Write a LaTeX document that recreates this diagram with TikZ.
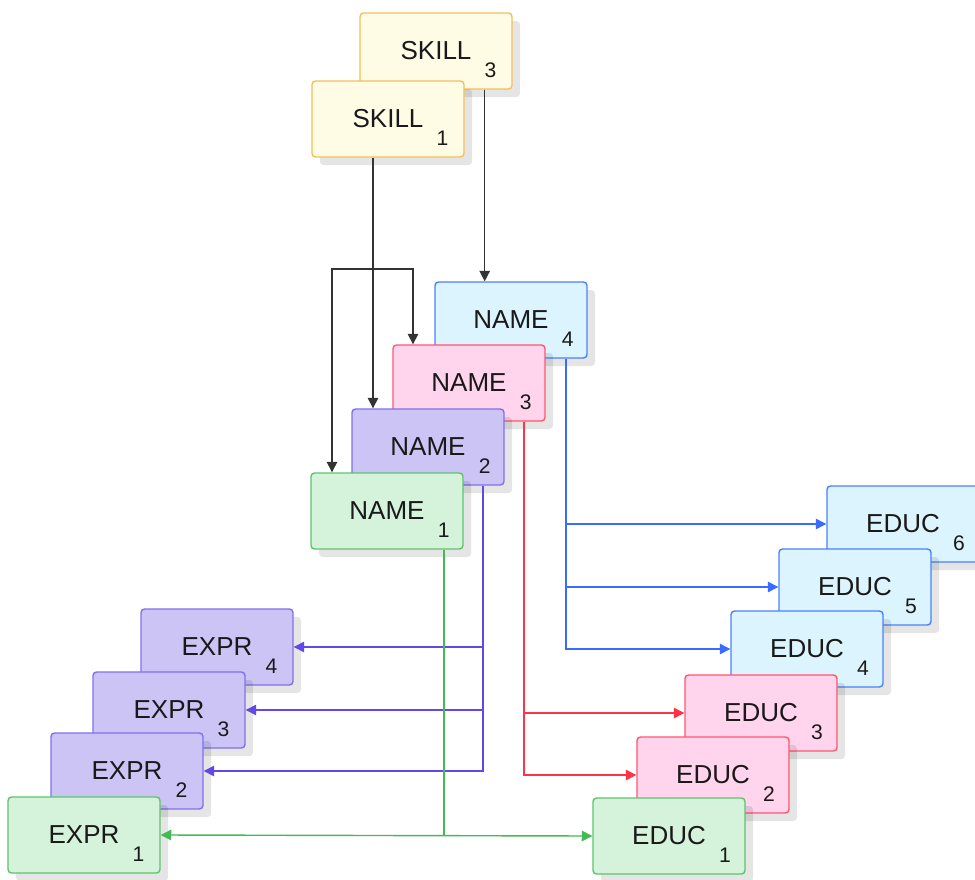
\documentclass[tikz,border=0pt]{standalone}
\usepackage{fontspec}
\setmainfont{Liberation Sans}
\usepackage{tikz}
\usetikzlibrary{positioning,arrows.meta,shadows}
\usepackage{xcolor}

\definecolor{skillfill}{HTML}{FFFCE6}
\definecolor{skillline}{HTML}{F5BF5B}
\definecolor{cyanfill}{HTML}{DCF4FD}
\definecolor{cyanline}{HTML}{4A80FF}
\definecolor{pinkfill}{HTML}{FFD4EC}
\definecolor{pinkline}{HTML}{FF5570}
\definecolor{lilacfill}{HTML}{CBC4F5}
\definecolor{lilacline}{HTML}{8070F0}
\definecolor{greenfill}{HTML}{D4F3DA}
\definecolor{greenline}{HTML}{5EC46C}
\definecolor{bluearrow}{HTML}{3A6BFF}
\definecolor{redarrow}{HTML}{FF3347}
\definecolor{lilacarrow}{HTML}{6248E8}
\definecolor{greenarrow}{HTML}{45B955}

\newcommand{\wordsize}{\fontsize{14.8}{17}\selectfont}
\newcommand{\subsize}{\fontsize{12}{14}\selectfont}
\newcommand{\boxtext}[2]{#1\rlap{\hspace{7.5pt}\raisebox{-9.8pt}[0pt][0pt]{\subsize #2}}}

\begin{document}
\begin{tikzpicture}[
    box/.style={rectangle, draw, line width=0.8pt, rounded corners=2pt, minimum width=3.04cm, minimum height=1.52cm, inner sep=0pt, font=\wordsize, text=black!90,
        drop shadow={shadow xshift=0.16cm, shadow yshift=-0.16cm, fill=black, opacity=0.1}},
    skill/.style={box, fill=skillfill, draw=skillline},
    cyanbox/.style={box, fill=cyanfill, draw=cyanline},
    pinkbox/.style={box, fill=pinkfill, draw=pinkline},
    lilacbox/.style={box, fill=lilacfill, draw=lilacline},
    greenbox/.style={box, fill=greenfill, draw=greenline},
    arrow/.style={-{Triangle[length=6pt,width=6pt]}, line width=0.8pt, black!80},
    twoway/.style={{Triangle[length=6pt,width=6pt]}-{Triangle[length=6pt,width=6pt]}, line width=0.8pt}
]
\useasboundingbox (0,0) rectangle (19.5,-17.6);

% Skills
\node[skill] (skill3) at (8.72,-1.02) {\boxtext{SKILL}{3}};
\node[skill] (skill1) at (7.76,-2.38) {\boxtext{SKILL}{1}};

% Names, back to front
\node[cyanbox] (name4) at (10.22,-6.40) {\boxtext{NAME}{4}};
\node[pinkbox] (name3) at (9.38,-7.66) {\boxtext{NAME}{3}};
\node[lilacbox] (name2) at (8.56,-8.94) {\boxtext{NAME}{2}};
\node[greenbox] (name1) at (7.74,-10.22) {\boxtext{NAME}{1}};

% Experience
\node[lilacbox] (expr4) at (4.34,-12.94) {\boxtext{EXPR}{4}};
\node[lilacbox] (expr3) at (3.38,-14.20) {\boxtext{EXPR}{3}};
\node[lilacbox] (expr2) at (2.54,-15.42) {\boxtext{EXPR}{2}};
\node[greenbox] (expr1) at (1.68,-16.70) {\boxtext{EXPR}{1}};

% Education
\node[cyanbox] (educ6) at (18.06,-10.48) {\boxtext{EDUC}{6}};
\node[cyanbox] (educ5) at (17.10,-11.74) {\boxtext{EDUC}{5}};
\node[cyanbox] (educ4) at (16.14,-12.98) {\boxtext{EDUC}{4}};
\node[pinkbox] (educ3) at (15.22,-14.26) {\boxtext{EDUC}{3}};
\node[pinkbox] (educ2) at (14.26,-15.50) {\boxtext{EDUC}{2}};
\node[greenbox] (educ1) at (13.38,-16.72) {\boxtext{EDUC}{1}};

% Skill arrows
\draw[arrow] ([xshift=-0.56cm]skill3.south east) -- ([xshift=-0.56cm]skill3.south east |- name4.north);
\draw[arrow] ([xshift=-0.3cm]skill1.south) -- ([xshift=-0.3cm]skill1.south |- name2.north);
\coordinate (fork) at ([xshift=-0.3cm]skill1.south |- 0,-5.38);
\draw[arrow] (fork) -| ([xshift=-1.1cm]name1.north);
\draw[arrow] (fork) -| ([xshift=-1.12cm]name3.north);

% Name 4 to education
\draw[arrow, bluearrow] ([xshift=1.1cm]name4.south) |- (educ6.west);
\draw[arrow, bluearrow] ([xshift=1.1cm]name4.south) |- (educ5.west);
\draw[arrow, bluearrow] ([xshift=1.1cm]name4.south) |- (educ4.west);

% Name 3 to education
\draw[arrow, redarrow] ([xshift=1.1cm]name3.south) |- (educ3.west);
\draw[arrow, redarrow] ([xshift=1.1cm]name3.south) |- (educ2.west);

% Name 2 to experience
\draw[arrow, lilacarrow] ([xshift=1.1cm]name2.south) |- (expr4.east);
\draw[arrow, lilacarrow] ([xshift=1.1cm]name2.south) |- (expr3.east);
\draw[arrow, lilacarrow] ([xshift=1.1cm]name2.south) |- (expr2.east);

% Name 1 splits both ways
\coordinate (split) at ([xshift=1.14cm]name1.south |- educ1.west);
\draw[line width=0.8pt, greenarrow] ([xshift=1.14cm]name1.south) -- (split);
\draw[twoway, greenarrow] (expr1.east) -- (educ1.west);

\end{tikzpicture}
\end{document}
